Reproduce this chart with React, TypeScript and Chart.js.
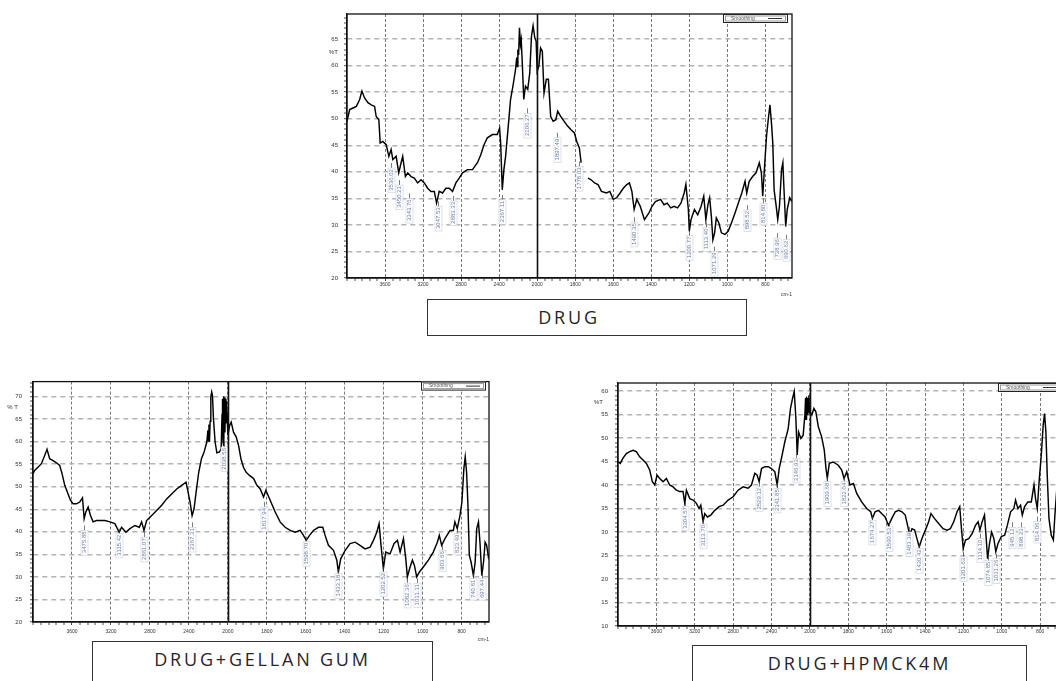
import React, { useEffect, useRef } from 'react';
import { Chart, registerables, LinearScale } from 'chart.js';

Chart.register(...registerables);

// ---------- axis conventions (FTIR: 4000-2000 compressed, 2000-660 expanded x2) ----------
const W_START = 4000;
const W_SPLIT = 2000;
const W_END = 660;
const xMajorTicks = [3600, 3200, 2800, 2400, 2000, 1800, 1600, 1400, 1200, 1000, 800];
const yMajorStep = 5;

function toU(w: number) {
  return w >= W_SPLIT ? (W_START - w) / 2 : (W_START - W_SPLIT) / 2 + (W_SPLIT - w);
}
function fromU(u: number) {
  const half = (W_START - W_SPLIT) / 2;
  return u <= half ? W_START - 2 * u : W_SPLIT - (u - half);
}

class FtirScale extends LinearScale {
  static id = 'ftir';
  static defaults = {};
  getPixelForValue(value: any) {
    if (value === null || value === undefined || Number.isNaN(value)) return NaN;
    return this.getPixelForDecimal(toU(value) / toU(this.min));
  }
  getValueForPixel(pixel: number) {
    return fromU(this.getDecimalForPixel(pixel) * toU(this.min));
  }
}
Chart.register(FtirScale);

// ---------- data: [wavenumber cm-1, %T] ----------
const drugSpectrum: [number, number | null][] = [
  [4000, 49.5], [3972, 51.7], [3937, 52.0], [3902, 52.3], [3867, 53.6], [3843, 55.2], [3815, 53.9], [3780, 53.0],
  [3745, 52.6], [3710, 52.3], [3693, 50.4], [3665, 49.8], [3651, 45.4], [3623, 45.7], [3588, 45.1], [3560, 42.9],
  [3536, 44.2], [3518, 42.3], [3483, 42.9], [3456, 39.8], [3431, 41.7], [3414, 42.9], [3386, 39.1], [3361, 39.8],
  [3326, 39.1], [3292, 38.8], [3257, 37.9], [3222, 38.5], [3187, 37.9], [3152, 36.9], [3117, 36.3], [3082, 36.3],
  [3058, 34.1], [3030, 36.3], [2995, 36.0], [2960, 36.9], [2925, 36.9], [2890, 36.3], [2855, 37.9], [2820, 38.8],
  [2785, 39.8], [2733, 40.4], [2680, 40.4], [2628, 41.7], [2593, 43.2], [2559, 45.1], [2524, 46.4], [2471, 47.0],
  [2419, 47.0], [2395, 48.2], [2384, 45.4], [2367, 36.6], [2350, 40.4], [2332, 42.9], [2304, 48.6], [2280, 53.6],
  [2255, 56.1], [2228, 59.2], [2215, 61.5], [2208, 59.8], [2203, 63.0], [2195, 62.0], [2186, 67.1], [2176, 64.0],
  [2168, 64.9], [2158, 61.1], [2141, 53.6], [2123, 56.1], [2099, 55.5], [2078, 58.6], [2060, 65.5], [2043, 67.5],
  [2025, 65.2], [2011, 64.6], [2000, 58.9], [1991, 59.9], [1982, 63.3], [1973, 62.7], [1964, 54.8], [1952, 57.4],
  [1941, 57.4], [1929, 50.4], [1916, 49.5], [1902, 49.8], [1892, 51.4], [1876, 50.4], [1858, 49.5], [1840, 48.6],
  [1822, 47.9], [1804, 47.3], [1792, 45.7], [1778, 44.5], [1769, 41.7], [1751, null], [1733, 38.8], [1716, 38.5],
  [1698, 37.9], [1680, 37.6], [1662, 36.3], [1636, 36.0], [1618, 36.3], [1600, 34.8], [1582, 35.1], [1564, 36.0],
  [1547, 36.9], [1529, 37.6], [1515, 37.9], [1502, 36.3], [1490, 32.9], [1476, 34.8], [1458, 33.5], [1436, 31.0],
  [1413, 32.2], [1396, 33.5], [1378, 34.4], [1351, 34.8], [1333, 33.8], [1316, 34.1], [1298, 33.2], [1280, 33.5],
  [1262, 33.2], [1244, 34.1], [1227, 36.0], [1218, 37.6], [1205, 32.9], [1200, 28.8], [1191, 31.0], [1173, 32.9],
  [1156, 31.9], [1138, 33.5], [1124, 35.4], [1113, 31.0], [1102, 33.8], [1093, 35.1], [1084, 31.6], [1076, 27.2],
  [1067, 28.5], [1058, 31.3], [1045, 30.4], [1031, 28.5], [1013, 28.2], [996, 28.8], [978, 30.4], [960, 32.2],
  [942, 34.1], [924, 36.0], [907, 38.2], [898, 36.0], [885, 38.2], [867, 39.1], [849, 39.8], [832, 41.7],
  [821, 39.8], [814, 35.4], [803, 41.7], [794, 46.7], [785, 49.8], [776, 52.6], [768, 49.2], [761, 45.4],
  [754, 36.6], [743, 33.5], [735, 31.0], [726, 33.5], [715, 40.4], [708, 41.7], [702, 36.6], [693, 29.7],
  [685, 32.9], [672, 35.1], [661, 34.4],
];

const gellanSpectrum: [number, number | null][] = [
  [4000, 52.9], [3983, 53.6], [3949, 54.3], [3914, 55.1], [3880, 56.9], [3856, 58.3], [3829, 56.2], [3794, 55.8],
  [3760, 55.3], [3726, 54.7], [3702, 52.9], [3674, 50.3], [3640, 48.4], [3616, 47.0], [3588, 46.2], [3554, 46.2],
  [3520, 46.6], [3492, 47.5], [3475, 42.9], [3458, 44.4], [3434, 45.5], [3410, 43.6], [3383, 42.2], [3348, 42.5],
  [3314, 42.5], [3262, 42.5], [3211, 42.2], [3160, 41.8], [3115, 39.9], [3091, 41.0], [3046, 39.9], [3005, 40.7],
  [2954, 41.4], [2909, 41.0], [2885, 42.2], [2861, 40.3], [2834, 42.5], [2782, 43.6], [2731, 44.7], [2679, 45.9],
  [2628, 47.3], [2577, 48.4], [2525, 49.5], [2474, 50.3], [2429, 51.0], [2412, 49.2], [2388, 46.6], [2367, 43.6],
  [2347, 45.1], [2326, 48.8], [2299, 53.2], [2271, 56.2], [2244, 57.7], [2216, 59.9], [2205, 62.5], [2199, 60.2],
  [2194, 63.8], [2189, 59.9], [2182, 64.5], [2175, 69.9], [2166, 71.0], [2158, 70.2], [2148, 65.1], [2131, 59.9],
  [2113, 57.5], [2086, 57.7], [2069, 58.4], [2060, 66.0], [2055, 69.5], [2050, 60.0], [2045, 70.0], [2040, 59.0],
  [2035, 69.8], [2030, 62.0], [2025, 69.5], [2020, 64.0], [2015, 69.0], [2008, 66.0], [2000, 61.4], [1991, 63.6],
  [1983, 64.3], [1971, 62.1], [1957, 61.0], [1945, 59.1], [1933, 56.2], [1920, 54.3], [1906, 53.2], [1889, 52.5],
  [1868, 51.8], [1851, 50.3], [1834, 49.5], [1817, 47.7], [1805, 49.2], [1783, 47.0], [1757, 44.4], [1732, 42.2],
  [1706, 41.0], [1680, 40.3], [1655, 39.9], [1629, 40.3], [1612, 39.2], [1598, 38.1], [1581, 39.2], [1561, 40.3],
  [1535, 41.0], [1513, 41.0], [1501, 39.2], [1484, 37.0], [1458, 35.9], [1441, 33.7], [1433, 31.1], [1421, 34.0],
  [1398, 35.9], [1373, 37.4], [1347, 37.7], [1322, 37.0], [1296, 36.2], [1270, 36.6], [1253, 38.1], [1236, 39.9],
  [1224, 41.8], [1214, 37.0], [1202, 31.8], [1190, 35.5], [1168, 35.1], [1147, 37.4], [1130, 38.1], [1116, 35.5],
  [1099, 38.5], [1087, 34.0], [1079, 30.0], [1065, 32.2], [1053, 33.7], [1043, 32.6], [1031, 30.0], [1017, 31.1],
  [997, 32.2], [971, 33.7], [946, 35.5], [925, 37.7], [915, 39.2], [903, 37.0], [886, 38.5], [860, 40.3],
  [843, 40.3], [835, 42.2], [823, 40.7], [809, 43.6], [799, 46.6], [789, 54.0], [782, 56.6], [775, 53.2],
  [768, 45.9], [761, 34.8], [752, 33.3], [740, 30.3], [731, 33.3], [723, 40.7], [714, 42.2], [706, 37.4],
  [697, 30.3], [688, 33.3], [680, 37.7], [672, 37.0], [663, 34.4], [658, 35.1],
];

const hpmcSpectrum: [number, number | null][] = [
  [4000, 44.9], [3976, 44.6], [3948, 45.7], [3913, 46.7], [3878, 47.1], [3843, 47.4], [3809, 47.1], [3774, 46.0],
  [3739, 45.3], [3704, 44.6], [3670, 43.2], [3642, 40.7], [3617, 40.0], [3593, 42.1], [3565, 41.4], [3530, 40.7],
  [3496, 41.4], [3461, 40.0], [3426, 39.6], [3391, 38.9], [3357, 38.6], [3322, 38.6], [3304, 36.1], [3287, 38.9],
  [3252, 37.1], [3217, 36.8], [3183, 36.1], [3155, 35.0], [3137, 35.7], [3113, 32.2], [3096, 33.9], [3068, 33.2],
  [3033, 33.6], [2991, 34.6], [2946, 35.4], [2904, 35.7], [2852, 36.8], [2800, 37.5], [2748, 38.9], [2696, 39.6],
  [2644, 39.3], [2609, 40.0], [2574, 42.5], [2550, 42.1], [2529, 40.7], [2504, 43.5], [2470, 43.9], [2435, 43.9],
  [2400, 43.5], [2365, 42.8], [2341, 40.0], [2320, 43.5], [2296, 45.7], [2261, 49.2], [2226, 52.0], [2202, 56.3],
  [2181, 58.4], [2163, 59.9], [2146, 54.2], [2132, 46.4], [2118, 51.3], [2094, 49.9], [2070, 50.6], [2052, 54.9],
  [2045, 58.5], [2040, 54.0], [2035, 58.8], [2028, 55.0], [2021, 58.5], [2015, 55.5], [2010, 59.1], [2005, 56.0],
  [2000, 55.6], [1990, 54.9], [1979, 56.3], [1969, 55.6], [1956, 52.4], [1939, 50.3], [1925, 47.4], [1916, 43.5],
  [1909, 41.4], [1899, 44.6], [1878, 44.9], [1852, 44.2], [1834, 43.2], [1822, 41.4], [1808, 42.8], [1791, 40.0],
  [1773, 40.3], [1756, 38.2], [1730, 36.4], [1704, 35.0], [1683, 34.3], [1674, 32.9], [1660, 34.3], [1642, 34.6],
  [1625, 33.9], [1608, 33.2], [1590, 31.4], [1573, 32.9], [1555, 34.3], [1538, 34.6], [1520, 34.3], [1503, 33.6],
  [1489, 31.1], [1480, 29.3], [1468, 30.7], [1454, 30.4], [1442, 28.6], [1430, 26.8], [1416, 28.6], [1398, 30.4],
  [1381, 32.2], [1369, 33.9], [1351, 32.9], [1329, 31.8], [1306, 30.7], [1285, 30.4], [1268, 30.7], [1250, 32.2],
  [1233, 34.3], [1219, 35.4], [1210, 30.7], [1201, 26.5], [1189, 28.3], [1172, 28.6], [1154, 29.7], [1137, 31.4],
  [1123, 32.2], [1114, 30.4], [1102, 32.2], [1090, 33.6], [1081, 28.6], [1074, 24.3], [1064, 27.5], [1053, 30.0],
  [1041, 28.6], [1031, 25.8], [1020, 27.5], [1003, 29.0], [985, 29.3], [971, 31.4], [954, 34.3], [937, 35.0],
  [928, 36.8], [916, 35.0], [902, 35.7], [893, 33.6], [881, 35.4], [864, 36.4], [846, 36.4], [832, 40.0],
  [824, 37.1], [815, 35.0], [804, 41.4], [794, 46.4], [784, 52.8], [777, 55.2], [770, 51.3], [763, 42.1],
  [754, 32.9], [742, 29.3], [731, 28.3], [723, 33.6], [714, 38.6], [705, 36.0], [695, 31.0], [685, 33.5],
  [672, 32.0], [660, 33.0],
];

// peak labels: [wavenumber, %T where label starts, text]
const drugPeaks: [number, number, string][] = [
  [3536, 40.7, '3536.02'], [3450, 37.5, '3450.21'], [3343, 35.0, '3343.76'], [3047, 33.5, '3047.53'],
  [2883, 34.5, '2883.33'], [2367, 34.7, '2367.11'], [2106, 51.0, '2106.27'], [1897, 46.4, '1897.49'],
  [1778, 41.0, '1778.03'], [1490, 30.5, '1490.35'], [1200, 28.0, '1200.77'], [1113, 29.5, '1113.40'],
  [1071, 25.0, '1071.29'], [898, 32.8, '898.52'], [814, 34.0, '814.80'], [738, 27.5, '738.96'],
  [690, 27.2, '690.62'],
];
const gellanPeaks: [number, number, string][] = [
  [3475, 40.3, '3475.88'], [3115, 39.6, '3115.42'], [2861, 38.8, '2861.07'], [2367, 41.0, '2367.31'],
  [2038, 58.8, '2038.56'], [1817, 45.5, '1817.94'], [1598, 37.8, '1598.70'], [1433, 30.7, '1433.18'],
  [1202, 31.1, '1202.52'], [1082, 28.6, '1082.36'], [1031, 28.6, '1031.11'], [903, 35.9, '903.66'],
  [823, 39.6, '823.49'], [740, 29.6, '740.81'], [697, 29.6, '697.44'],
];
const hpmcPeaks: [number, number, string][] = [
  [3304, 35.5, '3304.57'], [3113, 31.7, '3113.70'], [2529, 39.6, '2529.12'], [2341, 39.3, '2341.85'],
  [2146, 45.7, '2146.93'], [1909, 40.7, '1909.68'], [1822, 40.7, '1822.04'], [1674, 32.5, '1674.27'],
  [1590, 31.1, '1590.53'], [1483, 30.0, '1483.39'], [1430, 26.5, '1430.42'], [1201, 24.7, '1201.63'],
  [1114, 28.6, '1114.10'], [1074, 23.9, '1074.85'], [1031, 24.3, '1031.26'], [945, 31.0, '945.12'],
  [898, 31.0, '898.23'], [814, 32.2, '814.06'],
];

const FONT = '"Liberation Sans", Arial, sans-serif';

type Spec = {
  left: number; top: number; w: number; h: number;
  padTop: number; padRight: number; yAxisW: number; xAxisH: number;
  yMin: number; yMax: number; xPad: number; yPad: number;
  points: [number, number | null][]; peaks: [number, number, string][];
  tLabel: string; tValue: number; tRight: number; cmDy: number; legendInset: number;
};

function makeDecor(spec: Spec) {
  return {
    id: 'decor',
    afterDraw(chart: any) {
      const { ctx, chartArea: a } = chart;
      const xs = chart.scales.x;
      const ys = chart.scales.y;
      ctx.save();
      // peak labels
      ctx.font = '6px ' + FONT;
      for (const [w, v, txt] of spec.peaks) {
        const px = Math.round(xs.getPixelForValue(w)) + 0.5;
        const py = ys.getPixelForValue(v);
        ctx.strokeStyle = '#444';
        ctx.lineWidth = 0.7;
        ctx.beginPath();
        ctx.moveTo(px, py - 5);
        ctx.lineTo(px, py);
        ctx.stroke();
        ctx.save();
        ctx.translate(px, py + 1);
        ctx.rotate(-Math.PI / 2);
        const tw = ctx.measureText(txt).width;
        ctx.fillStyle = 'rgba(255,255,255,0.9)';
        ctx.fillRect(-tw - 2, -3.5, tw + 3, 7);
        ctx.strokeStyle = '#c9ccd8';
        ctx.lineWidth = 0.6;
        ctx.strokeRect(-tw - 2, -3.5, tw + 3, 7);
        ctx.fillStyle = '#6f80aa';
        ctx.textAlign = 'right';
        ctx.textBaseline = 'middle';
        ctx.fillText(txt, 0, 0);
        ctx.restore();
      }
      // frame
      ctx.strokeStyle = '#111';
      ctx.lineWidth = 1.3;
      ctx.strokeRect(a.left, a.top, a.right - a.left, a.bottom - a.top);
      // 2000 cm-1 scale-change line
      const sx = Math.round(xs.getPixelForValue(W_SPLIT)) + 0.5;
      ctx.lineWidth = 1.6;
      ctx.beginPath();
      ctx.moveTo(sx, a.top);
      ctx.lineTo(sx, a.bottom);
      ctx.stroke();
      // legend box
      const lw = 65, lh = 9;
      const lx = a.right - spec.legendInset - lw;
      const ly = a.top;
      ctx.fillStyle = '#fff';
      ctx.fillRect(lx, ly, lw, lh);
      ctx.strokeStyle = '#222';
      ctx.lineWidth = 1;
      ctx.strokeRect(lx + 0.5, ly + 0.5, lw - 1, lh - 1);
      ctx.strokeStyle = '#999';
      ctx.strokeRect(lx + 2.5, ly + 2, lw - 5, lh - 4);
      ctx.fillStyle = '#555';
      ctx.font = '5px ' + FONT;
      ctx.textAlign = 'left';
      ctx.textBaseline = 'middle';
      ctx.fillText(chart.data.datasets[0].label, lx + 8, ly + lh / 2);
      ctx.strokeStyle = '#333';
      ctx.beginPath();
      ctx.moveTo(lx + lw - 20, ly + lh / 2);
      ctx.lineTo(lx + lw - 6, ly + lh / 2);
      ctx.stroke();
      // %T
      ctx.fillStyle = '#333';
      ctx.font = '6px ' + FONT;
      ctx.textAlign = 'right';
      ctx.fillText(spec.tLabel, a.left - spec.tRight, ys.getPixelForValue(spec.tValue));
      // cm-1
      ctx.font = '5px ' + FONT;
      ctx.fillText('cm-1', a.right, a.bottom + spec.cmDy);
      ctx.restore();
    },
  };
}

function makeConfig(spec: Spec): any {
  return {
    type: 'line',
    data: {
      datasets: [
        {
          label: 'Smoothing',
          data: spec.points.map(([x, y]) => ({ x, y })),
          borderColor: '#000',
          borderWidth: 1.45,
          pointRadius: 0,
          tension: 0,
          spanGaps: false,
        },
      ],
    },
    options: {
      animation: false,
      responsive: false,
      events: [],
      layout: { padding: { top: spec.padTop, right: spec.padRight, left: 0, bottom: 0 } },
      plugins: { legend: { display: false }, tooltip: { enabled: false } },
      scales: {
        x: {
          type: 'ftir',
          min: W_END,
          max: W_START,
          afterBuildTicks: (s: any) => {
            const t: { value: number }[] = [];
            for (let w = W_START; w >= W_SPLIT; w -= 80) t.push({ value: w });
            for (let w = W_SPLIT - 40; w >= W_END; w -= 40) t.push({ value: w });
            s.ticks = t;
          },
          afterFit: (s: any) => {
            s.height = spec.xAxisH;
          },
          ticks: {
            autoSkip: false,
            maxRotation: 0,
            padding: spec.xPad,
            color: '#333',
            font: { size: 5, family: FONT },
            callback: (v: number) => (xMajorTicks.includes(v) ? String(v) : ''),
          },
          grid: {
            color: '#555',
            lineWidth: (c: any) => (c.tick && xMajorTicks.includes(c.tick.value) ? 0.8 : 0),
            tickColor: '#222',
            tickWidth: 0.8,
            tickLength: 3,
          },
          border: { display: true, color: '#111', width: 1.3, dash: [3, 2] },
        },
        y: {
          type: 'linear',
          min: spec.yMin,
          max: spec.yMax,
          afterBuildTicks: (s: any) => {
            const t: { value: number }[] = [];
            for (let v = spec.yMin; v <= spec.yMax; v += 1) t.push({ value: v });
            s.ticks = t;
          },
          afterFit: (s: any) => {
            s.width = spec.yAxisW;
          },
          ticks: {
            autoSkip: false,
            padding: spec.yPad,
            color: '#333',
            font: { size: 6, family: FONT },
            callback: (v: number) => (v % yMajorStep === 0 ? String(v) : ''),
          },
          grid: {
            color: '#b3b3b3',
            lineWidth: (c: any) => (c.tick && c.tick.value % yMajorStep === 0 ? 1.4 : 0),
            tickColor: '#222',
            tickWidth: 0.8,
            tickLength: 3,
          },
          border: { display: true, color: '#111', width: 1.3, dash: [5, 4] },
        },
      },
    },
    plugins: [makeDecor(spec)],
  };
}

const specs: Spec[] = [
  {
    left: 300, top: 0, w: 510, h: 300, padTop: 14, padRight: 18, yAxisW: 47, xAxisH: 22,
    yMin: 20, yMax: 69.7, xPad: 1, yPad: 6, points: drugSpectrum, peaks: drugPeaks,
    tLabel: '%T', tValue: 62.5, tRight: 9, cmDy: 17, legendInset: 4,
  },
  {
    left: 0, top: 370, w: 500, h: 275, padTop: 11, padRight: 11, yAxisW: 33, xAxisH: 23,
    yMin: 20, yMax: 73.3, xPad: 4, yPad: 8, points: gellanSpectrum, peaks: gellanPeaks,
    tLabel: '% T', tValue: 67.5, tRight: 15, cmDy: 18, legendInset: 3,
  },
  {
    left: 580, top: 370, w: 500, h: 275, padTop: 13, padRight: 13, yAxisW: 38, xAxisH: 19,
    yMin: 10, yMax: 61.7, xPad: 0, yPad: 7, points: hpmcSpectrum, peaks: hpmcPeaks,
    tLabel: '%T', tValue: 57.5, tRight: 15, cmDy: 12, legendInset: 4,
  },
];

const captions = [
  { text: 'DRUG', left: 427, top: 299, width: 320, height: 37, padRight: 36 },
  { text: 'DRUG+GELLAN GUM', left: 92, top: 641, width: 341, height: 60, padRight: 0 },
  { text: 'DRUG+HPMCK4M', left: 692, top: 645, width: 335, height: 60, padRight: 0 },
];

function Spectrum({ spec }: { spec: Spec }) {
  const ref = useRef<HTMLCanvasElement | null>(null);
  useEffect(() => {
    if (!ref.current) return;
    const chart = new Chart(ref.current, makeConfig(spec));
    return () => chart.destroy();
  }, [spec]);
  return (
    <canvas
      ref={ref}
      width={spec.w}
      height={spec.h}
      style={{ position: 'absolute', left: spec.left, top: spec.top, width: spec.w, height: spec.h }}
    />
  );
}

export default function App() {
  return (
    <div
      style={{
        position: 'fixed', left: 0, top: 0, width: 1056, height: 681,
        overflow: 'hidden', background: '#fff',
      }}
    >
      {specs.map((s, i) => (
        <Spectrum key={i} spec={s} />
      ))}
      {captions.map((c, i) => (
        <div
          key={i}
          style={{
            position: 'absolute', left: c.left, top: c.top, width: c.width, height: c.height,
            boxSizing: 'border-box', border: '1.4px solid #333', background: '#fff',
            fontFamily: '"Open Sans", sans-serif', fontSize: 18, letterSpacing: 2.8,
            color: '#262626', textAlign: 'center', lineHeight: '22px', paddingTop: 6,
            paddingRight: c.padRight,
          }}
        >
          {c.text}
        </div>
      ))}
    </div>
  );
}
